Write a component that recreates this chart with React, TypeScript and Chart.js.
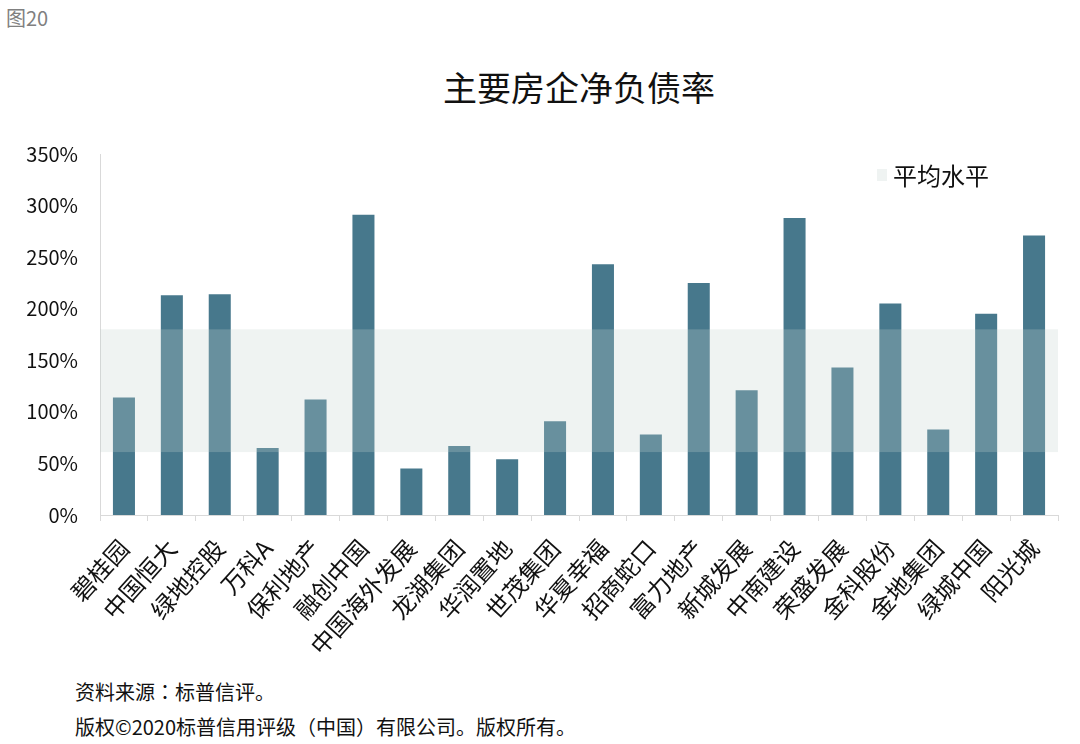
import React, { useEffect, useRef } from "react";
import { Chart, registerables } from "chart.js";

Chart.register(...registerables);

const categories = [
  "碧桂园", "中国恒大", "绿地控股", "万科A", "保利地产", "融创中国", "中国海外发展",
  "龙湖集团", "华润置地", "世茂集团", "华夏幸福", "招商蛇口", "富力地产", "新城发展",
  "中南建设", "荣盛发展", "金科股份", "金地集团", "绿城中国", "阳光城",
];
const netDebtRatio = [
  114, 213, 214, 65, 112, 291, 45, 67, 54, 91, 243, 78, 225, 121, 288, 143, 205, 83, 195, 271,
];
const bandLow = 61;
const bandHigh = 180;
const bandLabel = "平均水平";
const yTicks = [0, 50, 100, 150, 200, 250, 300, 350];

const FONT = '"Noto Sans CJK SC", "Noto Sans", sans-serif';
const CANVAS_TOP = 120;
const CANVAS_H = 545;

export default function App() {
  const ref = useRef<HTMLCanvasElement | null>(null);

  useEffect(() => {
    if (!ref.current) return;
    const bandPlugin = {
      id: "band",
      afterDatasetsDraw(chart: any) {
        const { ctx, chartArea, scales } = chart;
        const y = scales.y;
        const top = y.getPixelForValue(bandHigh);
        const bottom = y.getPixelForValue(bandLow);
        ctx.save();
        ctx.fillStyle = "rgba(195,212,206,0.27)";
        ctx.fillRect(chartArea.left, top, chartArea.right - chartArea.left, bottom - top);
        // legend
        ctx.fillStyle = "#eff3f2";
        ctx.fillRect(877, 169 - CANVAS_TOP, 10, 12);
        ctx.fillStyle = "#111";
        ctx.font = `24px ${FONT}`;
        ctx.textBaseline = "middle";
        ctx.textAlign = "left";
        ctx.fillText(bandLabel, 893, 176 - CANVAS_TOP);
        ctx.restore();
      },
    };

    const chart = new Chart(ref.current, {
      type: "bar",
      data: {
        labels: categories,
        datasets: [
          {
            label: "净负债率",
            data: netDebtRatio,
            backgroundColor: "#47788c",
            borderWidth: 0,
            barPercentage: 0.46,
            categoryPercentage: 1,
          },
        ],
      },
      options: {
        responsive: false,
        animation: false,
        layout: { padding: { top: 15, right: 22, left: 0, bottom: 0 } },
        plugins: { legend: { display: false }, tooltip: { enabled: false }, title: { display: false } },
        scales: {
          x: {
            offset: true,
            grid: {
              display: true,
              drawOnChartArea: false,
              drawTicks: true,
              tickLength: 6,
              color: "#d9d9d9",
              offset: true,
            },
            border: { display: true, color: "#d9d9d9" },
            ticks: {
              autoSkip: false,
              maxRotation: 48,
              minRotation: 48,
              padding: 13,
              labelOffset: 0,
              color: "#111",
              font: { family: FONT, size: 24 },
            },
            afterFit(scale: any) {
              scale.height = 150;
            },
          },
          y: {
            min: 0,
            max: 350,
            afterBuildTicks(scale: any) {
              scale.ticks = yTicks.map((v) => ({ value: v }));
            },
            grid: { display: false, drawTicks: false },
            border: { display: true, color: "#d9d9d9" },
            ticks: {
              padding: 22,
              color: "#111",
              font: { family: FONT, size: 20 },
              callback: (v: any) => `${v}%`,
            },
            afterFit(scale: any) {
              scale.width = 100;
            },
          },
        },
      },
      plugins: [bandPlugin],
    });
    return () => chart.destroy();
  }, []);

  return (
    <div
      style={{
        position: "absolute",
        left: 0,
        top: 0,
        width: 1080,
        height: 744,
        background: "#fff",
        fontFamily: FONT,
        overflow: "hidden",
      }}
    >
      <div style={{ position: "absolute", left: 6, top: 4, fontSize: 20, lineHeight: "28px", color: "#808080" }}>
        图20
      </div>
      <div
        style={{
          position: "absolute",
          left: 100,
          width: 958,
          top: 67,
          textAlign: "center",
          fontSize: 34,
          lineHeight: "40px",
          color: "#111",
        }}
      >
        主要房企净负债率
      </div>
      <canvas
        ref={ref}
        width={1080}
        height={CANVAS_H}
        style={{ position: "absolute", left: 0, top: CANVAS_TOP, width: 1080, height: CANVAS_H }}
      />
      <div style={{ position: "absolute", left: 75, top: 678, fontSize: 20, lineHeight: "28px", color: "#111" }}>
        资料来源<span style={{ fontFamily: '"Noto Sans CJK TC", sans-serif' }}>：</span>标普信评。
      </div>
      <div style={{ position: "absolute", left: 75, top: 713, fontSize: 20, lineHeight: "28px", color: "#111" }}>
        版权©2020标普信用评级（中国）有限公司。版权所有。
      </div>
    </div>
  );
}
